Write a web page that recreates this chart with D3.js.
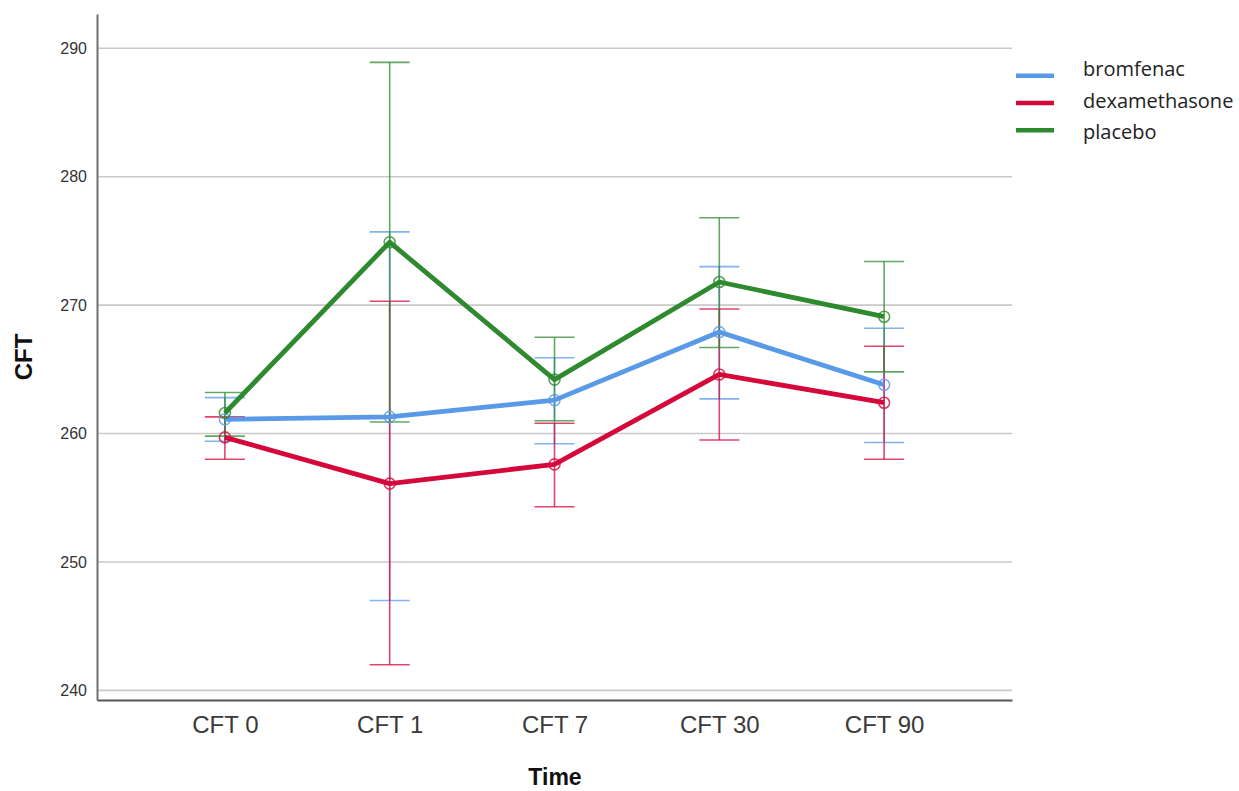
<!DOCTYPE html>
<html>
<head>
<meta charset="utf-8">
<script src="https://cdn.jsdelivr.net/npm/d3@7"></script>
<style>
  body { margin: 0; background: #fff; }
  svg { display: block; }
</style>
</head>
<body>
<div id="chart"></div>
<script>
// time points on the x axis
const timePoints = ["CFT 0", "CFT 1", "CFT 7", "CFT 30", "CFT 90"];
const yTicks = [240, 250, 260, 270, 280, 290];
const groups = ["bromfenac", "dexamethasone", "placebo"];

// means and error bar ends
const bromfenacMean = [261.1, 261.3, 262.6, 267.9, 263.8];
const bromfenacLow = [259.4, 247.0, 259.2, 262.7, 259.3];
const bromfenacHigh = [262.8, 275.7, 265.9, 273.0, 268.2];

const dexamethasoneMean = [259.7, 256.1, 257.6, 264.6, 262.4];
const dexamethasoneLow = [258.0, 242.0, 254.3, 259.5, 258.0];
const dexamethasoneHigh = [261.3, 270.3, 260.8, 269.7, 266.8];

const placeboMean = [261.6, 274.9, 264.2, 271.8, 269.1];
const placeboLow = [259.8, 260.9, 261.0, 266.7, 264.8];
const placeboHigh = [263.2, 288.9, 267.5, 276.8, 273.4];

const colors = { bromfenac: "#5899e8", dexamethasone: "#d5083c", placebo: "#2e8a2e" };

const series = [
  { key: "bromfenac", mean: bromfenacMean, low: bromfenacLow, high: bromfenacHigh },
  { key: "dexamethasone", mean: dexamethasoneMean, low: dexamethasoneLow, high: dexamethasoneHigh },
  { key: "placebo", mean: placeboMean, low: placeboLow, high: placeboHigh }
];

const W = 1239, H = 791;
const margin = { top: 14, right: 227, bottom: 91, left: 97 };
const plotW = W - margin.left - margin.right;
const plotH = H - margin.top - margin.bottom;

const svg = d3.select("#chart").append("svg")
  .attr("width", W)
  .attr("height", H);

const g = svg.append("g")
  .attr("transform", `translate(${margin.left},${margin.top})`);

const x = d3.scalePoint()
  .domain(timePoints)
  .range([0, plotW])
  .padding(0.776);

const y = d3.scaleLinear()
  .domain([239.25, 292.67])
  .range([plotH, 0]);

// horizontal grid lines
g.append("g")
  .selectAll("line")
  .data(yTicks)
  .join("line")
  .attr("x1", 0)
  .attr("x2", plotW)
  .attr("y1", d => y(d))
  .attr("y2", d => y(d))
  .attr("stroke", "#c9c9c9")
  .attr("stroke-width", 1.6);

// Y axis
const yAxis = g.append("g")
  .call(d3.axisLeft(y).tickValues(yTicks).tickSize(0).tickPadding(10));
yAxis.select(".domain").attr("stroke", "#707070").attr("stroke-width", 2);
yAxis.selectAll("text")
  .attr("font-family", "'Liberation Sans', Arial, sans-serif")
  .attr("font-size", 16)
  .attr("fill", "#333");

// X axis
const xAxis = g.append("g")
  .attr("transform", `translate(0,${plotH})`)
  .call(d3.axisBottom(x).tickSize(0).tickPadding(16));
xAxis.select(".domain").attr("stroke", "#555").attr("stroke-width", 2);
xAxis.selectAll("text")
  .attr("font-family", "'Liberation Sans', Arial, sans-serif")
  .attr("font-size", 24)
  .attr("fill", "#3a3a3a");

// axis titles
svg.append("text")
  .attr("transform", `translate(32,357) rotate(-90)`)
  .attr("text-anchor", "middle")
  .attr("font-family", "'Liberation Sans', Arial, sans-serif")
  .attr("font-weight", "bold")
  .attr("font-size", 24)
  .attr("fill", "#111")
  .text("CFT");

svg.append("text")
  .attr("x", 555)
  .attr("y", 785)
  .attr("text-anchor", "middle")
  .attr("font-family", "'Liberation Sans', Arial, sans-serif")
  .attr("font-weight", "bold")
  .attr("font-size", 23)
  .attr("fill", "#111")
  .text("Time");

const capHalf = 20;

// error bars
series.forEach(s => {
  const eb = g.append("g")
    .attr("stroke", colors[s.key])
    .attr("stroke-width", 1.6)
    .attr("stroke-opacity", 0.75);
  const pts = timePoints.map((t, i) => ({ t, low: s.low[i], high: s.high[i] }));
  eb.selectAll(".stem").data(pts).join("line")
    .attr("x1", d => x(d.t)).attr("x2", d => x(d.t))
    .attr("y1", d => y(d.low)).attr("y2", d => y(d.high));
  eb.selectAll(".capLow").data(pts).join("line")
    .attr("x1", d => x(d.t) - capHalf).attr("x2", d => x(d.t) + capHalf)
    .attr("y1", d => y(d.low)).attr("y2", d => y(d.low));
  eb.selectAll(".capHigh").data(pts).join("line")
    .attr("x1", d => x(d.t) - capHalf).attr("x2", d => x(d.t) + capHalf)
    .attr("y1", d => y(d.high)).attr("y2", d => y(d.high));
});

// mean lines and markers
const line = d3.line()
  .x(d => x(d.t))
  .y(d => y(d.v));

series.forEach(s => {
  const pts = timePoints.map((t, i) => ({ t, v: s.mean[i] }));
  g.append("path")
    .datum(pts)
    .attr("fill", "none")
    .attr("stroke", colors[s.key])
    .attr("stroke-width", 4.8)
    .attr("stroke-linejoin", "round")
    .attr("d", line);
  g.append("g").selectAll("circle").data(pts).join("circle")
    .attr("cx", d => x(d.t))
    .attr("cy", d => y(d.v))
    .attr("r", 5.5)
    .attr("fill", "none")
    .attr("stroke", colors[s.key])
    .attr("stroke-width", 1.6)
    .attr("stroke-opacity", 0.8);
});

// legend
const legend = svg.append("g")
  .attr("transform", "translate(1016,0)");
const item = legend.selectAll("g").data(groups).join("g");
item.append("line")
  .attr("x1", 0).attr("x2", 38)
  .attr("y1", (d, i) => 75.7 + i * 27.3)
  .attr("y2", (d, i) => 75.7 + i * 27.3)
  .attr("stroke", d => colors[d])
  .attr("stroke-width", 4.5);
item.append("text")
  .attr("x", 67)
  .attr("y", (d, i) => 76 + i * 31.5)
  .attr("font-family", "'Open Sans', 'Noto Sans', sans-serif")
  .attr("font-size", 20)
  .attr("fill", "#222")
  .text(d => d);
</script>
</body>
</html>
